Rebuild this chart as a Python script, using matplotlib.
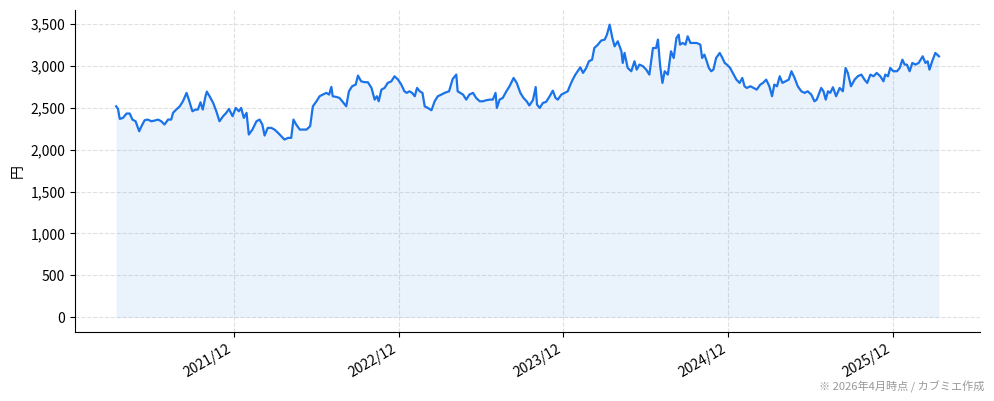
import matplotlib
matplotlib.use("Agg")
import matplotlib.pyplot as plt
import matplotlib.dates as mdates
import matplotlib.ticker as mticker
import pandas as pd

plt.rcParams['font.family'] = ['Noto Sans CJK JP', 'DejaVu Sans']

# 株価（終値の目視読み取り）: 2021-03-15 からの経過日数, 円
start_date = "2021-03-15"
days = [
    0, 4, 8, 15, 23, 30, 36, 43, 51, 56, 63, 70, 78, 85, 93, 100, 107, 115, 122, 126,
    133, 141, 148, 156, 161, 169, 176, 181, 187, 192, 198, 201, 207, 215, 222, 229, 237, 244, 250, 258,
    265, 272, 277, 283, 289, 294, 302, 311, 318, 324, 329, 336, 344, 351, 359, 366, 373, 381, 388, 393,
    399, 407, 414, 422, 430, 436, 444, 451, 458, 466, 472, 477, 480, 488, 495, 503, 510, 516, 523, 531,
    536, 543, 551, 558, 566, 573, 578, 582, 588, 595, 602, 610, 617, 625, 632, 639, 644, 650, 656, 662,
    667, 673, 679, 684, 691, 699, 706, 713, 721, 728, 738, 746, 754, 757, 763, 769, 776, 783, 791, 798,
    806, 813, 820, 828, 835, 841, 844, 850, 857, 865, 872, 881, 888, 896, 903, 910, 916, 924, 930, 933,
    939, 946, 953, 961, 968, 974, 979, 987, 994, 1001, 1007, 1012, 1018, 1023, 1029, 1035, 1042, 1048, 1055, 1060,
    1068, 1075, 1083, 1088, 1094, 1100, 1105, 1112, 1120, 1123, 1127, 1134, 1142, 1149, 1154, 1160, 1168, 1175, 1182, 1190,
    1197, 1201, 1206, 1211, 1216, 1223, 1230, 1236, 1242, 1247, 1250, 1256, 1262, 1267, 1273, 1280, 1287, 1295, 1299, 1304,
    1308, 1314, 1319, 1324, 1330, 1338, 1344, 1349, 1354, 1361, 1369, 1375, 1382, 1388, 1393, 1398, 1406, 1413, 1420, 1428,
    1434, 1441, 1448, 1454, 1459, 1465, 1471, 1477, 1484, 1491, 1497, 1504, 1511, 1519, 1526, 1533, 1541, 1548, 1553, 1558,
    1563, 1568, 1573, 1578, 1583, 1589, 1596, 1604, 1611, 1617, 1622, 1629, 1637, 1644, 1652, 1659, 1665, 1672, 1679, 1686,
    1694, 1701, 1705, 1711, 1716, 1723, 1731, 1737, 1743, 1748, 1753, 1759, 1765, 1772, 1779, 1788, 1794, 1799, 1803, 1809,
    1816, 1824,
]
prices = [
    2515, 2484, 2365, 2377, 2429, 2429, 2357, 2337, 2218, 2277, 2349, 2357, 2337, 2345, 2357, 2337, 2298, 2357, 2357, 2437,
    2476, 2515, 2575, 2675, 2595, 2456, 2476, 2476, 2563, 2476, 2635, 2690, 2635, 2556, 2456, 2337, 2397, 2437, 2484, 2397,
    2496, 2456, 2496, 2377, 2437, 2179, 2238, 2337, 2357, 2298, 2167, 2258, 2258, 2238, 2198, 2159, 2119, 2139, 2139, 2357,
    2298, 2238, 2238, 2238, 2278, 2515, 2575, 2635, 2655, 2675, 2655, 2746, 2635, 2627, 2615, 2563, 2515, 2694, 2754, 2774,
    2881, 2813, 2802, 2802, 2734, 2595, 2635, 2575, 2714, 2734, 2794, 2813, 2873, 2833, 2774, 2694, 2675, 2694, 2675, 2635,
    2734, 2694, 2675, 2515, 2496, 2468, 2575, 2635, 2655, 2675, 2694, 2841, 2893, 2694, 2675, 2655, 2595, 2655, 2675, 2615,
    2575, 2575, 2587, 2595, 2595, 2675, 2496, 2595, 2615, 2694, 2754, 2853, 2794, 2675, 2615, 2575, 2525, 2590, 2745, 2535,
    2496, 2556, 2567, 2635, 2702, 2615, 2595, 2655, 2675, 2694, 2774, 2833, 2893, 2933, 2980, 2913, 2972, 3052, 3071, 3210,
    3250, 3298, 3310, 3369, 3488, 3329, 3230, 3290, 3171, 3032, 3151, 2972, 2933, 3052, 2952, 3012, 2992, 2952, 2893, 3210,
    3210, 3310, 2992, 2794, 2933, 2893, 3171, 3091, 3329, 3369, 3250, 3270, 3250, 3349, 3270, 3270, 3270, 3250, 3091, 3131,
    3071, 2972, 2933, 2952, 3091, 3151, 3091, 3032, 3012, 2972, 2893, 2833, 2794, 2853, 2754, 2734, 2754, 2734, 2714, 2774,
    2794, 2833, 2754, 2635, 2774, 2754, 2873, 2794, 2813, 2833, 2933, 2853, 2754, 2694, 2675, 2694, 2655, 2575, 2595, 2665,
    2734, 2694, 2595, 2694, 2675, 2742, 2635, 2734, 2694, 2972, 2913, 2754, 2833, 2873, 2893, 2833, 2794, 2893, 2873, 2913,
    2873, 2813, 2893, 2873, 2972, 2933, 2933, 2972, 3071, 3012, 3012, 2933, 3032, 3012, 3032, 3111, 3032, 3052, 2952, 3052,
    3151, 3111,
]
tick_dates = ["2021-12-01", "2022-12-01", "2023-12-01", "2024-12-01", "2025-12-01"]
y_ticks = [0, 500, 1000, 1500, 2000, 2500, 3000, 3500]
note = "※ 2026年4月時点 / カブミエ作成"

dates = pd.Timestamp(start_date) + pd.to_timedelta(days, unit="D")

fig = plt.figure(figsize=(9.94, 4.01), dpi=100)
ax = fig.add_axes([0.0755, 0.172, 0.9105, 0.803])

ax.fill_between(dates, prices, 0, color="#1a73e8", alpha=0.09, linewidth=0)
ax.plot(dates, prices, color="#1a73e8", linewidth=1.6)

ax.set_xticks(pd.to_datetime(tick_dates))
ax.xaxis.set_major_formatter(mdates.DateFormatter("%Y/%m"))
plt.setp(ax.get_xticklabels(), rotation=30, ha="right")

ax.set_yticks(y_ticks)
ax.yaxis.set_major_formatter(mticker.FuncFormatter(lambda v, p: f"{int(v):,}"))
ax.set_ylabel("円", fontsize=10)

ax.grid(True, linestyle="--", color="#d9d9d9", linewidth=0.8, alpha=0.8)
ax.set_axisbelow(True)
ax.spines["top"].set_visible(False)
ax.spines["right"].set_visible(False)
ax.tick_params(labelsize=10)

fig.text(0.99, 0.02, note, ha="right", va="bottom", fontsize=8, color="#999999")

fig.savefig("out.png", dpi=100)
